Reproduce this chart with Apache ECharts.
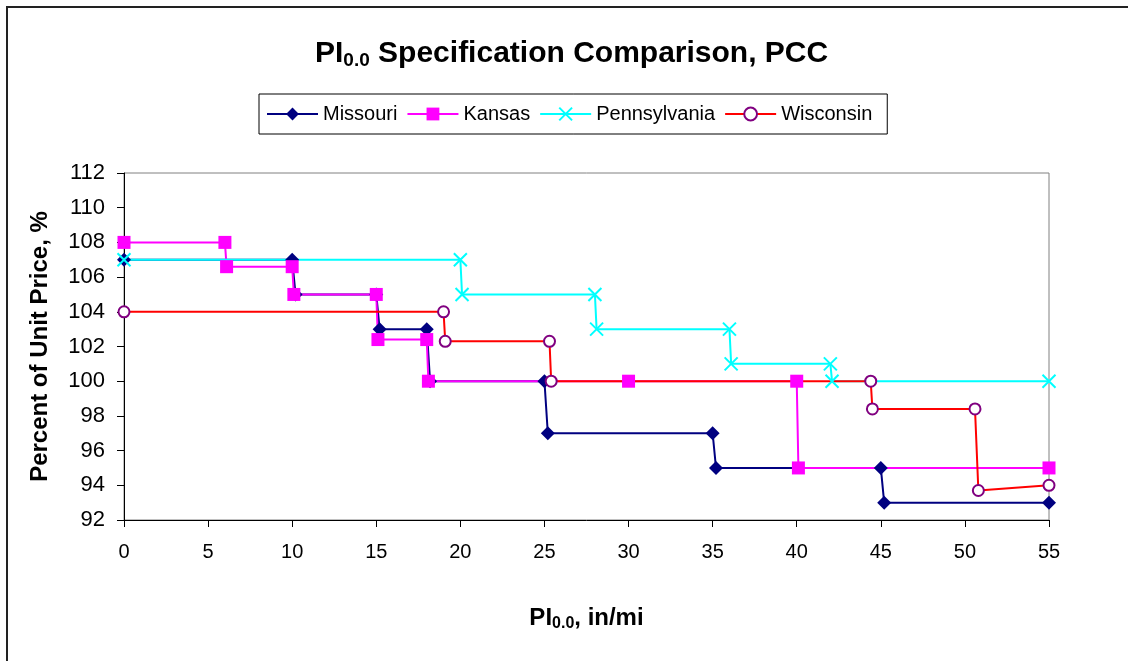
<!DOCTYPE html>
<html>
<head>
<meta charset="utf-8">
<script src="https://cdn.jsdelivr.net/npm/echarts@6/dist/echarts.min.js"></script>
<style>
html,body{margin:0;padding:0;background:#fff;}
#chart{width:1128px;height:661px;}
</style>
</head>
<body>
<div id="chart"></div>
<script>
// ---- Data ----
var seriesNames = ['Missouri', 'Kansas', 'Pennsylvania', 'Wisconsin'];

var missouriX = [0, 10, 10.2, 15, 15.2, 18, 18.2, 25, 25.2, 35, 35.2, 45, 45.2, 55];
var missouriY = [107, 107, 105, 105, 103, 103, 100, 100, 97, 97, 95, 95, 93, 93];

var kansasX = [0, 6, 6.1, 10, 10.1, 15, 15.1, 18, 18.1, 30, 40, 40.1, 55];
var kansasY = [108, 108, 106.6, 106.6, 105, 105, 102.4, 102.4, 100, 100, 100, 95, 95];

var pennX = [0, 20, 20.1, 28, 28.1, 36, 36.1, 42, 42.1, 55];
var pennY = [107, 107, 105, 105, 103, 103, 101, 101, 100, 100];

var wiscX = [0, 19, 19.1, 25.3, 25.4, 44.4, 44.5, 50.6, 50.8, 55];
var wiscY = [104, 104, 102.3, 102.3, 100, 100, 98.4, 98.4, 93.7, 94];

var xTicks = [0, 5, 10, 15, 20, 25, 30, 35, 40, 45, 50, 55];
var yTicks = [92, 94, 96, 98, 100, 102, 104, 106, 108, 110, 112];

function pairs(xs, ys) {
  return xs.map(function (x, i) { return [x, ys[i]]; });
}

var FONT = '"Liberation Sans", Arial, sans-serif';

var chart = echarts.init(document.getElementById('chart'), null, {renderer: 'canvas'});

var option = {
  animation: false,
  backgroundColor: '#ffffff',
  graphic: [{
    type: 'rect',
    shape: {x: 7, y: 7, width: 1140, height: 680},
    style: {fill: 'none', stroke: '#222222', lineWidth: 2},
    silent: true
  }],
  title: {
    text: '{a|PI}{b|0.0}{a| Specification Comparison, PCC}',
    left: 310,
    top: 32,
    textStyle: {
      rich: {
        a: {fontFamily: FONT, fontWeight: 'bold', fontSize: 30, color: '#000', lineHeight: 34},
        b: {fontFamily: FONT, fontWeight: 'bold', fontSize: 19, color: '#000', lineHeight: 19, padding: [14, 0, 0, 0]}
      }
    }
  },
  legend: {
    data: seriesNames,
    left: 259,
    top: 94,
    orient: 'horizontal',
    borderColor: '#000000',
    borderWidth: 1,
    padding: [10, 15, 10, 7],
    itemGap: 9,
    itemWidth: 51,
    itemHeight: 16,
    textStyle: {fontFamily: FONT, fontSize: 20, color: '#000'}
  },
  grid: {
    left: 124,
    right: 79,
    top: 173,
    bottom: 141,
    show: true,
    borderColor: '#808080',
    borderWidth: 1,
    backgroundColor: 'transparent'
  },
  xAxis: {
    type: 'value',
    min: 0,
    max: 55,
    interval: 5,
    name: '{a|PI}{b|0.0}{a|, in/mi}',
    nameLocation: 'middle',
    nameGap: 84,
    nameTextStyle: {
      rich: {
        a: {fontFamily: FONT, fontWeight: 'bold', fontSize: 24, color: '#000', lineHeight: 28},
        b: {fontFamily: FONT, fontWeight: 'bold', fontSize: 16, color: '#000', lineHeight: 16, padding: [11, 0, 0, 0]}
      }
    },
    axisLine: {show: true, onZero: false, lineStyle: {color: '#000', width: 1}},
    axisTick: {show: true, inside: false, length: 7, lineStyle: {color: '#000'}},
    axisLabel: {
      fontFamily: FONT, fontSize: 20, color: '#000', margin: 22,
      formatter: function (v) { return xTicks.indexOf(v) >= 0 ? String(v) : ''; }
    },
    splitLine: {show: false}
  },
  yAxis: {
    type: 'value',
    min: 92,
    max: 112,
    interval: 2,
    name: 'Percent of Unit Price, %',
    nameLocation: 'middle',
    nameGap: 72,
    nameTextStyle: {fontFamily: FONT, fontWeight: 'bold', fontSize: 24, color: '#000'},
    axisLine: {show: true, lineStyle: {color: '#000', width: 1}},
    axisTick: {show: true, inside: false, length: 7, lineStyle: {color: '#000'}},
    axisLabel: {
      fontFamily: FONT, fontSize: 22, color: '#000', margin: 19,
      formatter: function (v) { return yTicks.indexOf(v) >= 0 ? String(v) : ''; }
    },
    splitLine: {show: false}
  },
  series: [
    {
      name: 'Missouri',
      type: 'line',
      data: pairs(missouriX, missouriY),
      symbol: 'diamond',
      symbolSize: 14,
      showAllSymbol: true,
      lineStyle: {color: '#000080', width: 2},
      itemStyle: {color: '#000080'}
    },
    {
      name: 'Kansas',
      type: 'line',
      data: pairs(kansasX, kansasY),
      symbol: 'rect',
      symbolSize: 13,
      showAllSymbol: true,
      lineStyle: {color: '#FF00FF', width: 2},
      itemStyle: {color: '#FF00FF'}
    },
    {
      name: 'Pennsylvania',
      type: 'line',
      data: pairs(pennX, pennY),
      symbol: 'path://M0,0L10,10M0,10L10,0',
      symbolSize: 13,
      showAllSymbol: true,
      lineStyle: {color: '#00FFFF', width: 2},
      itemStyle: {color: '#00FFFF', borderColor: '#00FFFF', borderWidth: 2}
    },
    {
      name: 'Wisconsin',
      type: 'line',
      data: pairs(wiscX, wiscY),
      symbol: 'emptyCircle',
      symbolSize: 11,
      showAllSymbol: true,
      lineStyle: {color: '#FF0000', width: 2},
      itemStyle: {color: '#800080', borderColor: '#800080', borderWidth: 2}
    }
  ]
};

chart.setOption(option);
</script>
</body>
</html>
